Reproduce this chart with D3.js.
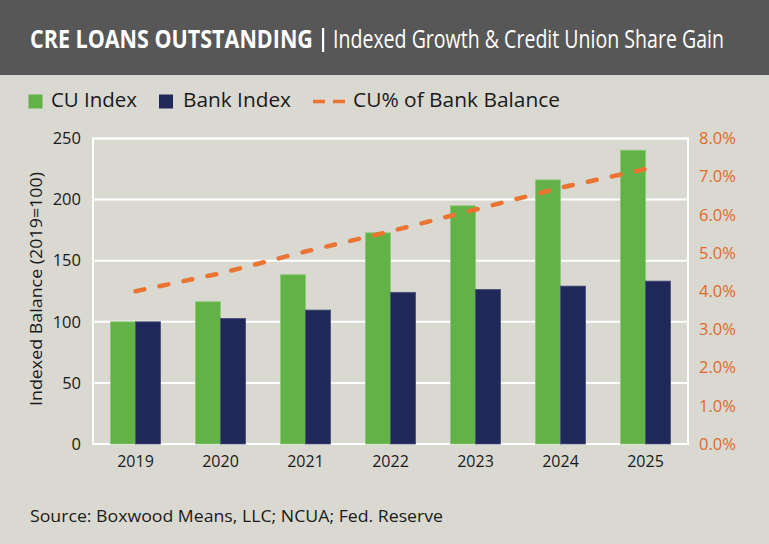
<!DOCTYPE html>
<html>
<head>
<meta charset="utf-8">
<script src="https://cdn.jsdelivr.net/npm/d3@7"></script>
<style>
  html, body { margin: 0; padding: 0; background: #d9d8d1; }
  svg { display: block; }
  text { font-family: "Open Sans", sans-serif; }
</style>
</head>
<body>
<svg id="chart" width="769" height="544"></svg>
<script>
// ---- data ----
const years = ["2019", "2020", "2021", "2022", "2023", "2024", "2025"];
const cuIndex = [100, 116.4, 138.5, 172.8, 194.9, 216.1, 240.4];
const bankIndex = [100, 102.8, 109.6, 124.1, 126.5, 129.2, 133.3];
const cuShare = [0.0400, 0.0447, 0.0504, 0.0557, 0.0614, 0.0671, 0.0720];
const leftTicks = [0, 50, 100, 150, 200, 250];
const rightTicks = [0, 0.01, 0.02, 0.03, 0.04, 0.05, 0.06, 0.07, 0.08];
const seriesNames = ["CU Index", "Bank Index", "CU% of Bank Balance"];

const colors = { cu: "#63b248", bank: "#1f2858", line: "#ec7432", axisR: "#e26a28" };

const svg = d3.select("#chart");
const W = 769, H = 544;

svg.append("rect").attr("width", W).attr("height", H).attr("fill", "#d9d8d1");

// header
svg.append("rect").attr("x", 0).attr("y", 0).attr("width", W).attr("height", 75).attr("fill", "#575757");
function fitText(sel, x, yb, target) {
  const natural = sel.node().getComputedTextLength();
  const k = target / natural;
  sel.attr("transform", `translate(${x},${yb}) scale(${k},1)`);
}
const t1 = svg.append("text").attr("x", 0).attr("y", 0)
  .attr("fill", "#fff").attr("font-size", 25.5).attr("font-weight", 700)
  .text("CRE LOANS OUTSTANDING");
fitText(t1, 30, 48, 283);
svg.append("rect").attr("x", 322).attr("y", 28).attr("width", 2.2).attr("height", 24).attr("fill", "#fff");
const t2 = svg.append("text").attr("x", 0).attr("y", 0)
  .attr("fill", "#fff").attr("font-size", 25.5).attr("font-weight", 500)
  .text("Indexed Growth & Credit Union Share Gain");
fitText(t2, 333, 48, 391);

// legend
const lg = svg.append("g");
lg.append("rect").attr("x", 28.5).attr("y", 94.5).attr("width", 14).attr("height", 14).attr("fill", colors.cu);
lg.append("text").attr("x", 51).attr("y", 107).attr("font-size", 20).attr("fill", "#1a1a1a")
  .attr("textLength", 86).attr("lengthAdjust", "spacingAndGlyphs").text(seriesNames[0]);
lg.append("rect").attr("x", 159).attr("y", 94.5).attr("width", 14).attr("height", 14).attr("fill", colors.bank);
lg.append("text").attr("x", 183).attr("y", 107).attr("font-size", 20).attr("fill", "#1a1a1a")
  .attr("textLength", 108).attr("lengthAdjust", "spacingAndGlyphs").text(seriesNames[1]);
lg.append("line").attr("x1", 313).attr("x2", 345).attr("y1", 101.5).attr("y2", 101.5)
  .attr("stroke", colors.line).attr("stroke-width", 3.5).attr("stroke-dasharray", "12,8");
lg.append("text").attr("x", 353).attr("y", 107).attr("font-size", 20).attr("fill", "#1a1a1a")
  .attr("textLength", 207).attr("lengthAdjust", "spacingAndGlyphs").text(seriesNames[2]);

// scales
const plot = { left: 93, right: 688, top: 138.5, bottom: 444 };
const x0 = d3.scaleBand().domain(years).range([plot.left, plot.right]).paddingInner(0.41).paddingOuter(0.205);
const x1 = d3.scaleBand().domain(["cu", "bank"]).range([0, x0.bandwidth()]);
const y = d3.scaleLinear().domain([0, 250]).range([plot.bottom, plot.top]);
const yR = d3.scaleLinear().domain([0, 0.08]).range([plot.bottom, plot.top]);

// gridlines
svg.append("g").selectAll("line").data(leftTicks).join("line")
  .attr("x1", plot.left).attr("x2", plot.right)
  .attr("y1", d => y(d)).attr("y2", d => y(d))
  .attr("stroke", "#ffffff").attr("stroke-width", 2);
svg.append("rect").attr("x", plot.left).attr("y", plot.top)
  .attr("width", plot.right - plot.left).attr("height", plot.bottom - plot.top)
  .attr("fill", "none").attr("stroke", "#fff").attr("stroke-width", 2);

// bars
const groups = svg.append("g").selectAll("g").data(years).join("g")
  .attr("transform", d => `translate(${x0(d)},0)`);
groups.append("rect")
  .attr("x", x1("cu")).attr("width", x1.bandwidth())
  .attr("y", (d, i) => y(cuIndex[i])).attr("height", (d, i) => y(0) - y(cuIndex[i]))
  .attr("fill", colors.cu).attr("stroke", "#8cc974").attr("stroke-width", 0.8);
groups.append("rect")
  .attr("x", x1("bank")).attr("width", x1.bandwidth())
  .attr("y", (d, i) => y(bankIndex[i])).attr("height", (d, i) => y(0) - y(bankIndex[i]))
  .attr("fill", colors.bank).attr("stroke", "#4a5178").attr("stroke-width", 0.8);

// line
const line = d3.line()
  .x((d, i) => x0(years[i]) + x0.bandwidth() / 2)
  .y(d => yR(d));
svg.append("path").datum(cuShare)
  .attr("d", line).attr("fill", "none")
  .attr("stroke", colors.line).attr("stroke-width", 4.5)
  .attr("stroke-linecap", "round")
  .attr("stroke-dasharray", "9,15.5");

// axes
const axL = svg.append("g").attr("transform", `translate(${plot.left},0)`)
  .call(d3.axisLeft(y).tickValues(leftTicks).tickSize(0).tickPadding(12));
axL.select(".domain").remove();
axL.selectAll("text").attr("font-size", 16.5).attr("fill", "#1a1a1a").attr("font-family", "Open Sans, sans-serif");

const axR = svg.append("g").attr("transform", `translate(${plot.right},0)`)
  .call(d3.axisRight(yR).tickValues(rightTicks).tickFormat(d3.format(".1%")).tickSize(0).tickPadding(11));
axR.select(".domain").remove();
axR.selectAll("text").attr("font-size", 16.5).attr("fill", colors.axisR).attr("font-family", "Open Sans, sans-serif");

const axB = svg.append("g").attr("transform", `translate(0,${plot.bottom})`)
  .call(d3.axisBottom(x0).tickSize(0).tickPadding(12));
axB.select(".domain").remove();
axB.selectAll("text").attr("font-size", 16).attr("fill", "#1a1a1a").attr("font-family", "Open Sans, sans-serif");

// y-axis title
svg.append("text")
  .attr("transform", "translate(41.5,289) rotate(-90)")
  .attr("text-anchor", "middle").attr("font-size", 16.5).attr("fill", "#1a1a1a")
  .attr("textLength", 234).attr("lengthAdjust", "spacingAndGlyphs")
  .text("Indexed Balance (2019=100)");

// source
svg.append("text").attr("x", 30).attr("y", 522).attr("font-size", 17).attr("fill", "#1a1a1a")
  .attr("textLength", 413).attr("lengthAdjust", "spacingAndGlyphs")
  .text("Source: Boxwood Means, LLC; NCUA; Fed. Reserve");
</script>
</body>
</html>
